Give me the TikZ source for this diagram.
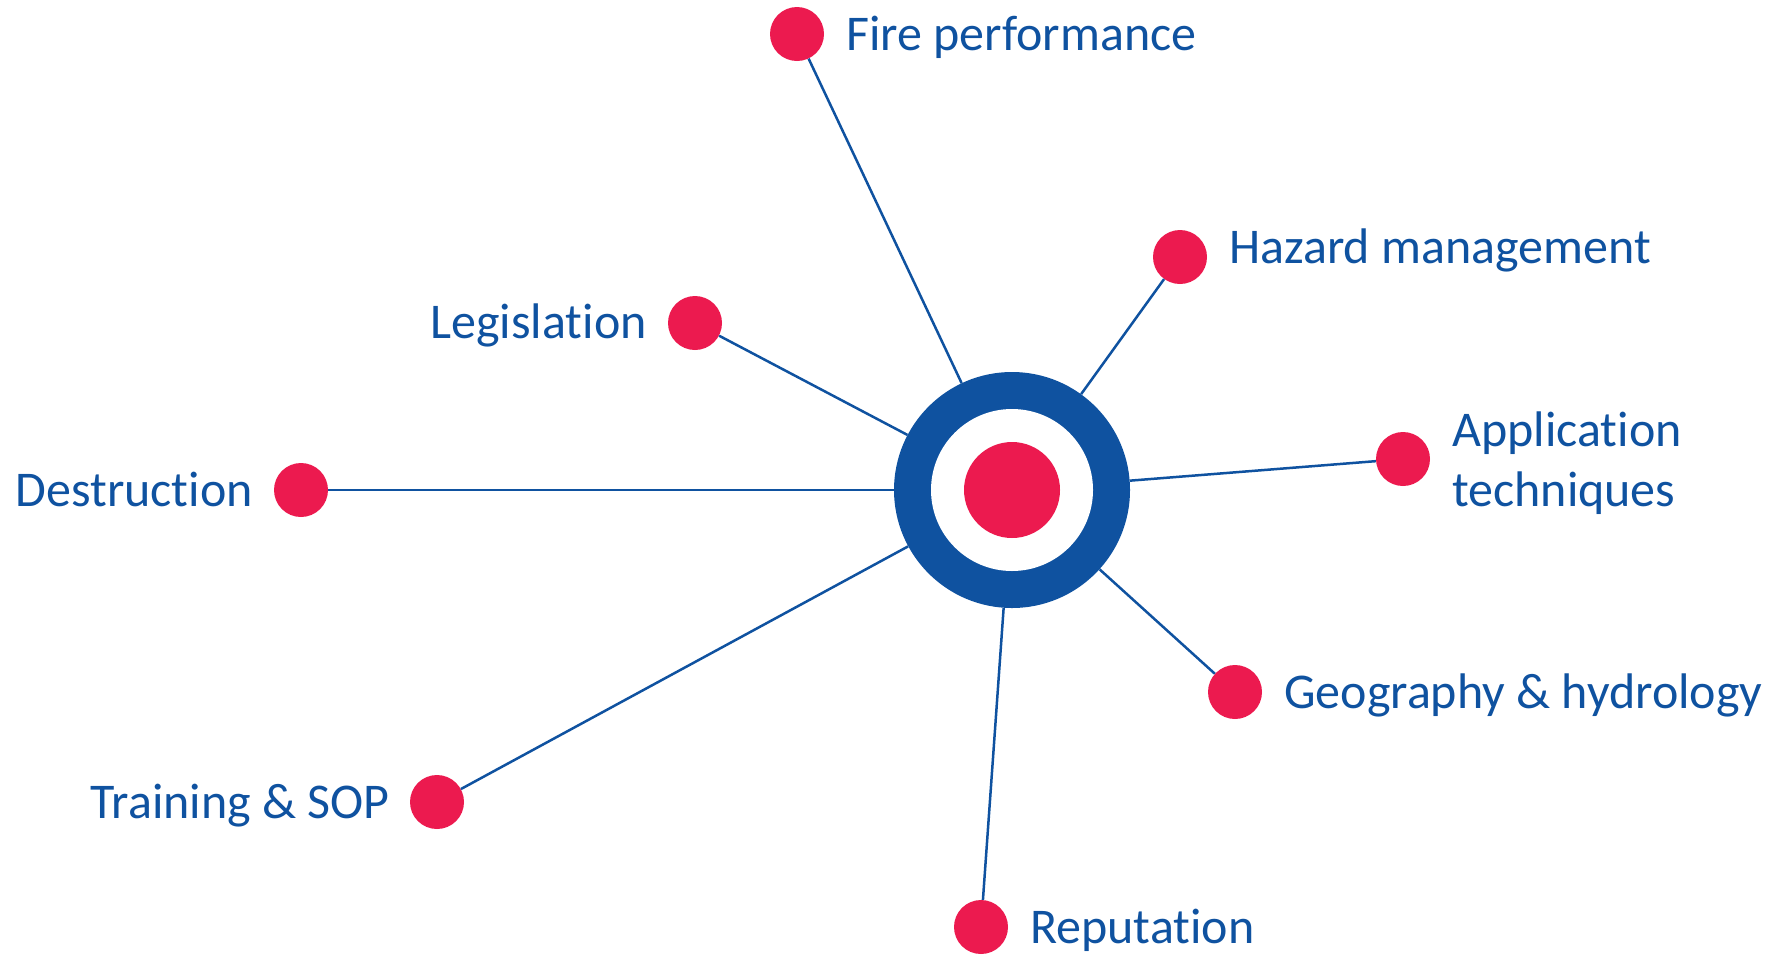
\documentclass[tikz,border=0pt]{standalone}
\usepackage{fontspec}
\setmainfont{Carlito}[Ligatures=NoCommon,RawFeature={-liga;-clig}]
\definecolor{hubblue}{RGB}{15,82,160}
\definecolor{hubred}{RGB}{236,26,79}
\begin{document}
\begin{tikzpicture}[x=1pt,y=-1pt,
  dot/.style={circle,fill=hubred,minimum size=54pt,inner sep=0pt},
  conn/.style={draw=hubblue,line width=2.5pt},
  lbl/.style={text=hubblue,font=\fontsize{50}{60}\selectfont,inner sep=0pt,align=left}]
\useasboundingbox (0,0) rectangle (1777,954);
% hub
\node[circle,fill=hubblue,minimum size=236pt,inner sep=0pt] (c) at (1012,490) {};
\node[circle,fill=white,minimum size=162pt,inner sep=0pt] (cw) at (c) {};
\node[circle,fill=hubred,minimum size=96pt,inner sep=0pt] (cr) at (c) {};
% dots
\node[dot] (fire) at (797,34) {};
\node[dot] (haz) at (1180,257) {};
\node[dot] (leg) at (695,323) {};
\node[dot] (des) at (301,490) {};
\node[dot] (app) at (1403,459) {};
\node[dot] (geo) at (1235,692) {};
\node[dot] (tra) at (437,802) {};
\node[dot] (rep) at (981,927) {};
% connectors
\foreach \n in {fire,haz,leg,des,app,geo,tra,rep} \draw[conn] (\n) -- (c);
% labels
\node[lbl,anchor=base west] (lfire) at (846,50) {Fire performance};
\node[lbl,anchor=base west] (lhaz) at (1229,263) {Hazard management};
\node[lbl,anchor=base east] (lleg) at (647,338) {Legislation};
\node[lbl,anchor=base east] (ldes) at (253,506) {Destruction};
\node[lbl,anchor=base west] (lapp) at (1452,506) {Application\\techniques};
\node[lbl,anchor=base west] (lgeo) at (1284,708) {Geography \& hydrology};
\node[lbl,anchor=base east] (ltra) at (390,818) {Training \& SOP};
\node[lbl,anchor=base west] (lrep) at (1030,943) {Reputation};
\end{tikzpicture}
\end{document}
